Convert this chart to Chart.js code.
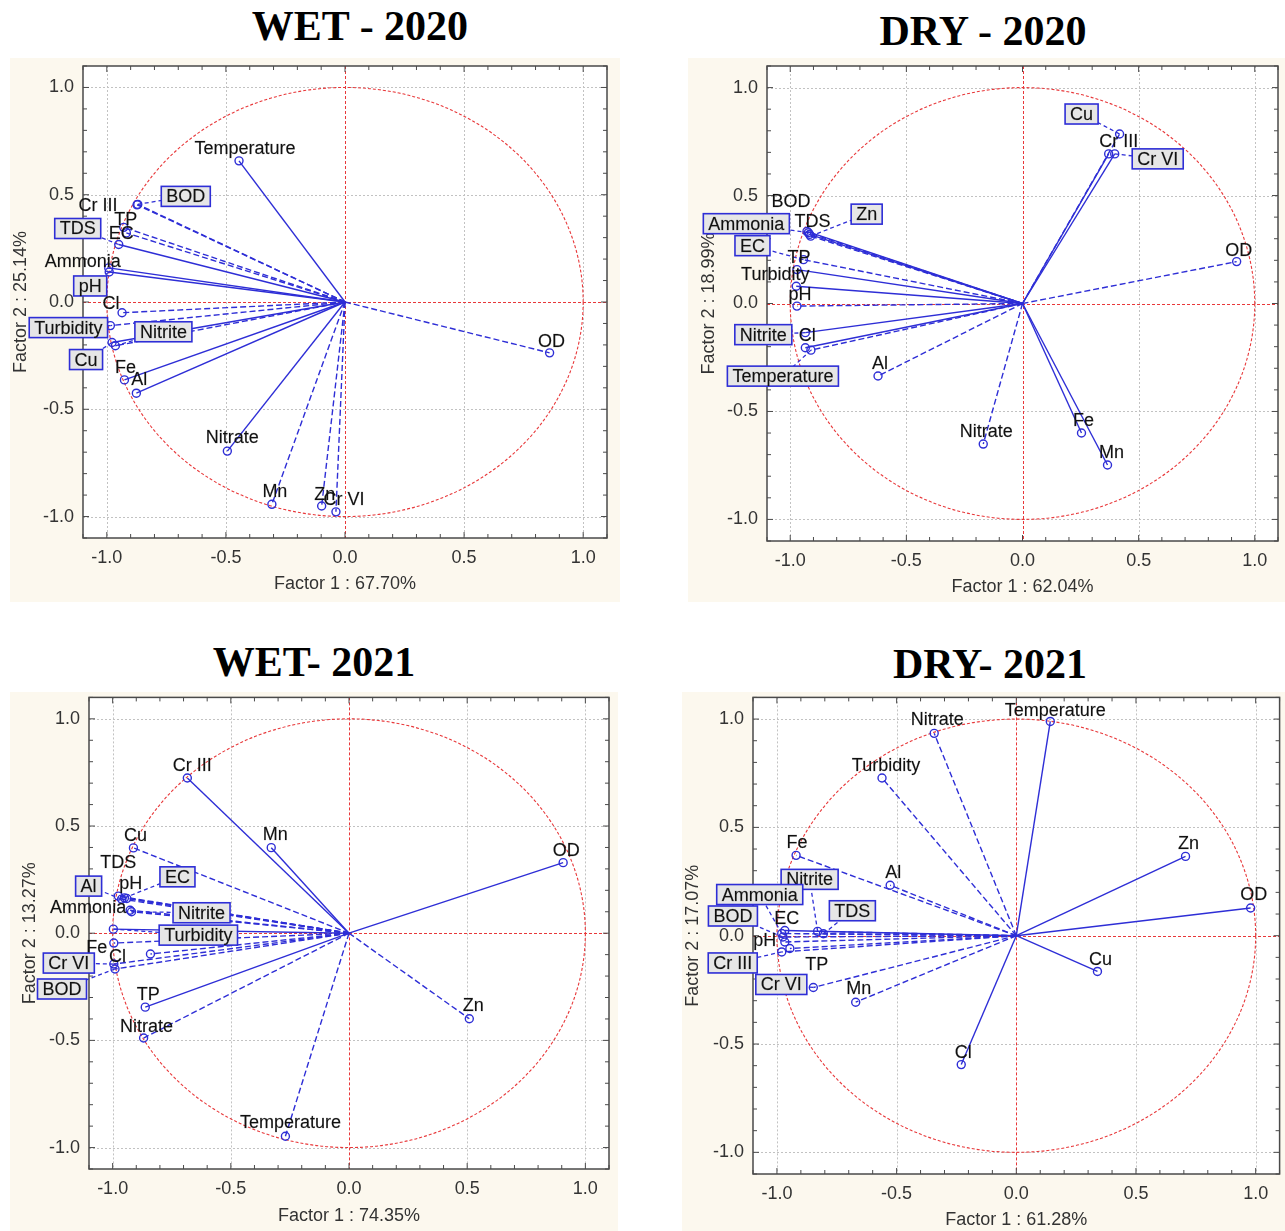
<!DOCTYPE html>
<html>
<head>
<meta charset="utf-8">
<script src="https://cdn.jsdelivr.net/npm/chart.js@4/dist/chart.umd.min.js"></script>
<style>
  html,body{margin:0;padding:0;background:#fff;}
  body{width:1285px;height:1231px;position:relative;overflow:hidden;font-family:"Liberation Sans",Arial,sans-serif;}
  .ttl{position:absolute;width:600px;text-align:center;font-family:"Liberation Serif","Times New Roman",serif;font-weight:bold;font-size:42px;line-height:42px;color:#000;white-space:nowrap;}
  canvas{position:absolute;background:#fcf8ee;}
</style>
</head>
<body>
<div class="ttl" style="left:60px;top:5px;">WET - 2020</div>
<div class="ttl" style="left:683px;top:10px;">DRY - 2020</div>
<div class="ttl" style="left:14px;top:641px;">WET- 2021</div>
<div class="ttl" style="left:690px;top:643px;">DRY- 2021</div>
<canvas id="c1" width="610" height="544" style="left:10px;top:58px;"></canvas>
<canvas id="c2" width="597" height="544" style="left:688px;top:58px;"></canvas>
<canvas id="c3" width="608" height="539" style="left:10px;top:692px;"></canvas>
<canvas id="c4" width="603" height="539" style="left:682px;top:692px;"></canvas>
<script>
// ---------------- DATA ----------------
// WET - 2020
const w20Vars = ["Temperature","Cr III","BOD","TP","EC","TDS","Ammonia","pH","Cl","Turbidity","Nitrite","Cu","Fe","Al","Nitrate","Mn","Zn","Cr VI","OD"];
const w20F1 = [-0.445,-0.873,-0.870,-0.929,-0.918,-0.950,-0.992,-0.990,-0.936,-0.985,-0.964,-0.978,-0.926,-0.876,-0.494,-0.307,-0.098,-0.038,0.859];
const w20F2 = [0.658,0.453,0.455,0.348,0.322,0.268,0.159,0.140,-0.050,-0.110,-0.204,-0.189,-0.363,-0.425,-0.695,-0.943,-0.951,-0.978,-0.237];
const w20Axis = ["Factor 1 : 67.70%","Factor 2 : 25.14%"];

// DRY - 2020
const d20Vars = ["Cu","Cr III","Cr VI","OD","BOD","TDS","Ammonia","Zn","EC","TP","Turbidity","pH","Nitrite","Cl","Temperature","Al","Nitrate","Fe","Mn"];
const d20F1 = [0.418,0.371,0.397,0.922,-0.928,-0.917,-0.922,-0.912,-0.943,-0.971,-0.974,-0.971,-0.935,-0.935,-0.911,-0.622,-0.169,0.254,0.366];
const d20F2 = [0.785,0.693,0.693,0.194,0.334,0.320,0.328,0.312,0.203,0.157,0.080,-0.012,-0.135,-0.205,-0.216,-0.336,-0.651,-0.600,-0.748];
const d20Axis = ["Factor 1 : 62.04%","Factor 2 : 18.99%"];

// WET - 2021
const w21Vars = ["Cr III","Mn","OD","Zn","Temperature","Cu","TDS","pH","Al","EC","Ammonia","Nitrite","Turbidity","Fe","Cl","Cr VI","BOD","TP","Nitrate"];
const w21F1 = [-0.684,-0.329,0.906,0.509,-0.269,-0.912,-0.976,-0.940,-0.962,-0.950,-0.926,-0.920,-0.997,-0.995,-0.840,-0.995,-0.990,-0.862,-0.869];
const w21F2 = [0.724,0.399,0.329,-0.399,-0.947,0.398,0.173,0.162,0.159,0.165,0.107,0.100,0.019,-0.046,-0.097,-0.144,-0.167,-0.345,-0.489];
const w21Axis = ["Factor 1 : 74.35%","Factor 2 : 13.27%"];

// DRY - 2021
const d21Vars = ["Temperature","Nitrate","Turbidity","Zn","OD","Cu","Cl","Fe","Al","TDS","EC","Nitrite","Ammonia","BOD","pH","Cr III","TP","Cr VI","Mn"];
const d21F1 = [0.142,-0.343,-0.561,0.707,0.979,0.339,-0.230,-0.920,-0.527,-0.806,-0.967,-0.830,-0.980,-0.975,-0.967,-0.980,-0.946,-0.848,-0.671];
const d21F2 = [0.989,0.934,0.728,0.366,0.128,-0.165,-0.595,0.371,0.233,0.009,0.024,0.020,0.010,-0.006,-0.029,-0.075,-0.059,-0.239,-0.307];
const d21Axis = ["Factor 1 : 61.28%","Factor 2 : 17.07%"];

// ---------------- STYLE (line dash + label placement: dx, dy px, boxed) ----------------
const w20Dash = [0,1,1,1,1,0,0,0,1,1,1,0,0,0,0,1,1,1,1];
const w20Lab = [[6,-13,0],[-39,0,0],[48,-8,1],[2,-8,0],[-5,0,0],[-41,-16,1],[-26,-7,0],[-19,14,1],[-11,-10,0],[-42,2,1],[48,-14,1],[-26,17,1],[1,-13,0],[3,-14,0],[5,-14,0],[3,-13,0],[3,-12,0],[8,-13,0],[2,-12,0]];

const d20Dash = [1,0,0,1,0,0,1,1,1,0,0,1,0,0,1,1,1,0,0];
const d20Lab = [[-38,-20,1],[10,-13,0],[43,5,1],[2,-12,0],[-16,-30,0],[3,-13,0],[-62,-9,1],[56,-22,1],[-51,-14,1],[2,-13,0],[-21,-12,0],[3,-12,0],[-42,2,1],[2,-13,0],[-28,26,1],[2,-13,0],[3,-13,0],[2,-13,0],[4,-13,0]];

const w21Dash = [0,0,0,1,1,1,1,1,1,1,1,1,0,1,1,1,1,0,1];
const w21Lab = [[5,-13,0],[4,-14,0],[3,-13,0],[4,-14,0],[5,-14,0],[2,-13,0],[0,-34,0],[4,-15,0],[-33,-13,1],[53,-21,1],[-42,-3,0],[70,1,1],[85,6,1],[-17,4,0],[-33,2,0],[-45,-1,1],[-53,20,1],[3,-13,0],[3,-12,0]];

const d21Dash = [0,1,1,0,0,0,0,1,1,1,0,1,1,1,1,1,1,1,1];
const d21Lab = [[5,-11,0],[3,-14,0],[4,-13,0],[3,-13,0],[3,-14,0],[3,-12,0],[2,-13,0],[1,-13,0],[3,-13,0],[29,-23,1],[2,-12,0],[-8,-52,1],[-22,-39,1],[-50,-21,1],[-20,-2,0],[-49,11,1],[27,16,0],[-32,-3,1],[3,-14,0]];

// ---------------- RENDER ----------------
const BLUE = '#2e2ed6';
const RED = '#e8383a';
const FONT = '"Liberation Sans", Arial, sans-serif';

function isMajor(v){ return Math.round(v*10) % 5 === 0; }
function fmt(v){ const r = Math.round(v*10); if (r % 5 !== 0) return ''; const x = r/10; return (Math.abs(x)<1e-9?0:x).toFixed(1); }

function decor(lab){
  return {
    id:'pcaDecor',
    beforeDraw(chart){
      const a = chart.chartArea, ctx = chart.ctx;
      ctx.save(); ctx.fillStyle = '#ffffff'; ctx.fillRect(a.left, a.top, a.right-a.left, a.bottom-a.top); ctx.restore();
    },
    beforeDatasetsDraw(chart){
      const ctx = chart.ctx, a = chart.chartArea, xs = chart.scales.x, ys = chart.scales.y;
      ctx.save();
      // dotted grid at major ticks
      ctx.lineWidth = 1; ctx.strokeStyle = '#c2c2c2'; ctx.setLineDash([2,2]);
      ctx.beginPath();
      xs.ticks.forEach(t => { if (isMajor(t.value) && Math.abs(t.value) > 1e-9) { const p = Math.round(xs.getPixelForValue(t.value)) + 0.5; ctx.moveTo(p, a.top); ctx.lineTo(p, a.bottom); } });
      ys.ticks.forEach(t => { if (isMajor(t.value) && Math.abs(t.value) > 1e-9) { const p = Math.round(ys.getPixelForValue(t.value)) + 0.5; ctx.moveTo(a.left, p); ctx.lineTo(a.right, p); } });
      ctx.stroke();
      // red zero lines
      const cx = xs.getPixelForValue(0), cy = ys.getPixelForValue(0);
      ctx.strokeStyle = RED; ctx.setLineDash([3,2]);
      ctx.beginPath();
      ctx.moveTo(Math.round(cx)+0.5, a.top); ctx.lineTo(Math.round(cx)+0.5, a.bottom);
      ctx.moveTo(a.left, Math.round(cy)+0.5); ctx.lineTo(a.right, Math.round(cy)+0.5);
      ctx.stroke();
      // unit circle
      const rx = xs.getPixelForValue(1) - cx, ry = cy - ys.getPixelForValue(1);
      ctx.beginPath(); ctx.ellipse(cx, cy, rx, ry, 0, 0, Math.PI*2);
      ctx.setLineDash([3,2]); ctx.strokeStyle = RED; ctx.lineWidth = 1.1; ctx.stroke();
      ctx.restore();
    },
    afterDatasetsDraw(chart){
      const ctx = chart.ctx, a = chart.chartArea, xs = chart.scales.x, ys = chart.scales.y;
      ctx.save();
      // frame and inward ticks
      ctx.strokeStyle = '#4a4a4a'; ctx.lineWidth = 1.5; ctx.setLineDash([]);
      ctx.strokeRect(a.left, a.top, a.right-a.left, a.bottom-a.top);
      ctx.lineWidth = 1;
      ctx.beginPath();
      xs.ticks.forEach(t => { const p = xs.getPixelForValue(t.value); const L = isMajor(t.value)?6:4;
        ctx.moveTo(p, a.bottom); ctx.lineTo(p, a.bottom-L); ctx.moveTo(p, a.top); ctx.lineTo(p, a.top+L); });
      ys.ticks.forEach(t => { const p = ys.getPixelForValue(t.value); const L = isMajor(t.value)?6:4;
        ctx.moveTo(a.left, p); ctx.lineTo(a.left+L, p); ctx.moveTo(a.right, p); ctx.lineTo(a.right-L, p); });
      ctx.stroke();
      // labels
      ctx.font = '18px ' + FONT; ctx.textAlign = 'center'; ctx.textBaseline = 'middle';
      const items = chart.data.datasets.map((ds, i) => {
        const el = chart.getDatasetMeta(i).data[1];
        return {text: ds.label, px: el.x, py: el.y, cx: el.x + lab[i][0], cy: el.y + lab[i][1], box: lab[i][2]};
      });
      ctx.strokeStyle = BLUE; ctx.lineWidth = 1.3; ctx.setLineDash([4,3]);
      items.forEach(it => { if (it.box) { ctx.beginPath(); ctx.moveTo(it.px, it.py); ctx.lineTo(it.cx, it.cy); ctx.stroke(); } });
      ctx.setLineDash([]);
      items.forEach(it => {
        if (it.box) {
          const w = ctx.measureText(it.text).width + 10, h = 20;
          ctx.fillStyle = '#e6e6e6'; ctx.fillRect(it.cx - w/2, it.cy - h/2, w, h);
          ctx.strokeStyle = BLUE; ctx.lineWidth = 1.6; ctx.strokeRect(it.cx - w/2, it.cy - h/2, w, h);
        }
        ctx.fillStyle = '#111'; ctx.fillText(it.text, it.cx, it.cy + 1);
        ctx.strokeStyle = 'rgba(17,17,17,0.35)'; ctx.lineWidth = 0.4; ctx.strokeText(it.text, it.cx, it.cy + 1);
      });
      ctx.restore();
    }
  };
}

function makeChart(id, vars, f1, f2, dash, lab, axisTitles, geo){
  const datasets = vars.map((v, i) => ({
    label: v,
    data: [{x:0, y:0}, {x:f1[i], y:f2[i]}],
    showLine: true,
    borderColor: BLUE,
    borderWidth: 1.4,
    borderDash: dash[i] ? [6,3] : [],
    pointRadius: [0,4],
    pointHoverRadius: [0,4],
    pointBorderColor: BLUE,
    pointBackgroundColor: 'rgba(0,0,0,0)',
    pointBorderWidth: 1.4
  }));
  const tickFont = {family: FONT, size: 18};
  new Chart(document.getElementById(id), {
    type: 'scatter',
    data: {datasets},
    options: {
      responsive: false, animation: false, events: [],
      layout: {padding: {top: geo.padTop, right: geo.padRight, left: 0, bottom: 0}},
      plugins: {legend: {display: false}, tooltip: {enabled: false}},
      scales: {
        x: {
          type: 'linear', min: -1.1, max: 1.1,
          afterFit: s => { s.height = geo.xH; s.paddingLeft = 0; s.paddingRight = 0; },
          ticks: {stepSize: 0.1, autoSkip: false, maxRotation: 0, minRotation: 0, callback: fmt, font: tickFont, color: '#333', padding: 9},
          grid: {display: false, drawTicks: false},
          border: {display: false},
          title: {display: true, text: axisTitles[0], font: {family: FONT, size: 18}, color: '#333', padding: {top: 0, bottom: geo.xTitlePad}}
        },
        y: {
          type: 'linear', min: -1.1, max: 1.1,
          afterFit: s => { s.width = geo.yW; s.paddingTop = 0; s.paddingBottom = 0; },
          ticks: {stepSize: 0.1, autoSkip: false, callback: fmt, font: tickFont, color: '#333', padding: 9},
          grid: {display: false, drawTicks: false},
          border: {display: false},
          title: {display: true, text: axisTitles[1], font: {family: FONT, size: 18}, color: '#333', padding: {top: geo.yTitlePad, bottom: 0}}
        }
      }
    },
    plugins: [decor(lab)]
  });
}

makeChart('c1', w20Vars, w20F1, w20F2, w20Dash, w20Lab, w20Axis, {yW:73, xH:64, padTop:8, padRight:13, yTitlePad:0, xTitlePad:7});
makeChart('c2', d20Vars, d20F1, d20F2, d20Dash, d20Lab, d20Axis, {yW:79, xH:61, padTop:8, padRight:7, yTitlePad:10, xTitlePad:4});
makeChart('c3', w21Vars, w21F1, w21F2, w21Dash, w21Lab, w21Axis, {yW:79, xH:62, padTop:5, padRight:9, yTitlePad:9, xTitlePad:4});
makeChart('c4', d21Vars, d21F1, d21F2, d21Dash, d21Lab, d21Axis, {yW:71, xH:57, padTop:4, padRight:5, yTitlePad:0, xTitlePad:0});
</script>
</body>
</html>
